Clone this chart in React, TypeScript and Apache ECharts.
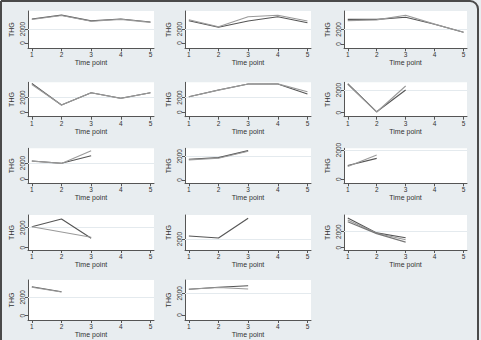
import React, { useEffect, useRef } from "react";
import * as echarts from "echarts";

const timePoints = [1, 2, 3, 4, 5];
const yTickValues = [0, 2000];
const xTitle = "Time point";
const yTitle = "THG";

// THG values per panel (one array per subject line; null = missing)
const panel1 = [[3420, 3980, 3160, 3430, 3000], [3360, 3920, 3110, 3380, 2950]];
const panel2 = [[3190, 2240, 3140, 3760, 2900], [3330, 2330, 3760, 3960, 3140]];
const panel3 = [[3400, 3400, 3680, 2720, 1610], [3220, 3320, 3960, 2740, 1620]];
const panel4 = [[3900, 990, 2650, 1890, 2650], [3760, 980, 2640, 1880, 2640]];
const panel5 = [[2110, 3010, 3820, 3820, 2470], [2090, 3000, 3830, 3840, 2780]];
const panel6 = [[2550, 80, 2000], [2500, 60, 2350]];
const panel7 = [[2250, 1960, 2910], [2240, 1950, 3540]];
const panel8 = [[1750, 1890, 2480], [1700, 1840, 2430]];
const panel9 = [[940, 1430], [880, 1660]];
const panel10 = [[2100, 2870, 940], [2100, null, 1040]];
const panel11 = [[2750, 2250, 7170]];
const panel12 = [[3700, 1850, 1250], [3450, 1800, 1000], [3250, 1760, 700]];
const panel13 = [[3150, 2610], [3100, 2570]];
const panel14 = [[2380, 2560, 2700], [2380, 2540, 2400]];

const panels = [panel1, panel2, panel3, panel4, panel5, panel6, panel7, panel8, panel9, panel10, panel11, panel12, panel13, panel14];

// y-axis range per panel [min, max]
const yRanges = [
  [-757, 4571], [-757, 4571], [-600, 4550],
  [-595, 4054], [-595, 4054], [-352, 2678],
  [-538, 3838], [-278, 2675], [-273, 2116],
  [-230, 3270], [-750, 8000], [-288, 4088],
  [-467, 3880], [-461, 3226],
];

const lineColors = ["#555555", "#9a9a9a", "#777777"];

const colLeft = [28, 185, 344];
const colWidth = [126, 126, 123];
const rowTop = [11, 82.3, 148.3, 215, 280];
const rowHeight = [37.3, 34.4, 35, 35, 40];

export default function App() {
  const ref = useRef<HTMLDivElement>(null);
  useEffect(() => {
    if (!ref.current) return;
    const chart = echarts.init(ref.current, null, { renderer: "svg" });
    const grids: any[] = [];
    const xAxes: any[] = [];
    const yAxes: any[] = [];
    const series: any[] = [];
    const font = "Arial";
    const textColor = "#333333";
    panels.forEach((lines, i) => {
      const r = Math.floor(i / 3);
      const c = i % 3;
      grids.push({
        left: colLeft[c],
        top: rowTop[r],
        width: colWidth[c],
        height: rowHeight[r],
        show: true,
        backgroundColor: "#ffffff",
        borderWidth: 0,
      });
      xAxes.push({
        type: "value",
        gridIndex: i,
        min: 0.87,
        max: 5.12,
        name: xTitle,
        nameLocation: "middle",
        nameGap: 11,
        nameTextStyle: { fontSize: 7, color: textColor, fontFamily: font, fontWeight: "normal" },
        axisLine: { show: true, onZero: false, lineStyle: { color: "#555", width: 1 } },
        axisTick: { show: true, length: 3, customValues: timePoints, lineStyle: { color: "#555" } },
        axisLabel: {
          customValues: timePoints,
          fontSize: 6.5,
          color: textColor,
          margin: 3,
          fontFamily: font,
          formatter: (v: number) => String(v),
        },
        splitLine: { show: false },
      });
      yAxes.push({
        type: "value",
        gridIndex: i,
        min: yRanges[i][0],
        max: yRanges[i][1],
        name: yTitle,
        nameLocation: "middle",
        nameGap: 13,
        nameRotate: 90,
        nameTextStyle: { fontSize: 7, color: textColor, fontFamily: font, fontWeight: "normal" },
        axisLine: { show: true, onZero: false, lineStyle: { color: "#555", width: 1 } },
        axisTick: { show: true, length: 3, customValues: yTickValues, lineStyle: { color: "#555" } },
        axisLabel: {
          customValues: yTickValues,
          rotate: 90,
          fontSize: 6.5,
          color: textColor,
          margin: 2,
          fontFamily: font,
          formatter: (v: number) => String(v),
        },
        splitLine: { show: false },
      });
      lines.forEach((vals, k) => {
        series.push({
          type: "line",
          xAxisIndex: i,
          yAxisIndex: i,
          data: vals.map((v, j) => [timePoints[j], v == null ? "-" : v]),
          connectNulls: true,
          showSymbol: false,
          symbol: "none",
          lineStyle: { color: lineColors[k % lineColors.length], width: 1.1 },
          z: 3,
          markLine: k === 0 ? {
            silent: true,
            symbol: "none",
            label: { show: false },
            lineStyle: { color: "#e4eaee", width: 1, type: "solid" },
            data: [{ yAxis: 2000 }],
            z: 1,
          } : undefined,
        });
      });
    });
    chart.setOption({
      animation: false,
      backgroundColor: "#e8edf0",
      grid: grids,
      xAxis: xAxes,
      yAxis: yAxes,
      series,
      graphic: [
        {
          type: "rect",
          shape: { x: 1, y: 1, width: 477, height: 360, r: [0, 8, 0, 0] },
          style: { fill: "none", stroke: "#4a4a4a", lineWidth: 2 },
          silent: true,
          z: 100,
        },
      ],
    });
    return () => chart.dispose();
  }, []);
  return <div ref={ref} style={{ position: "fixed", left: 0, top: 0, width: 481, height: 340 }} />;
}
